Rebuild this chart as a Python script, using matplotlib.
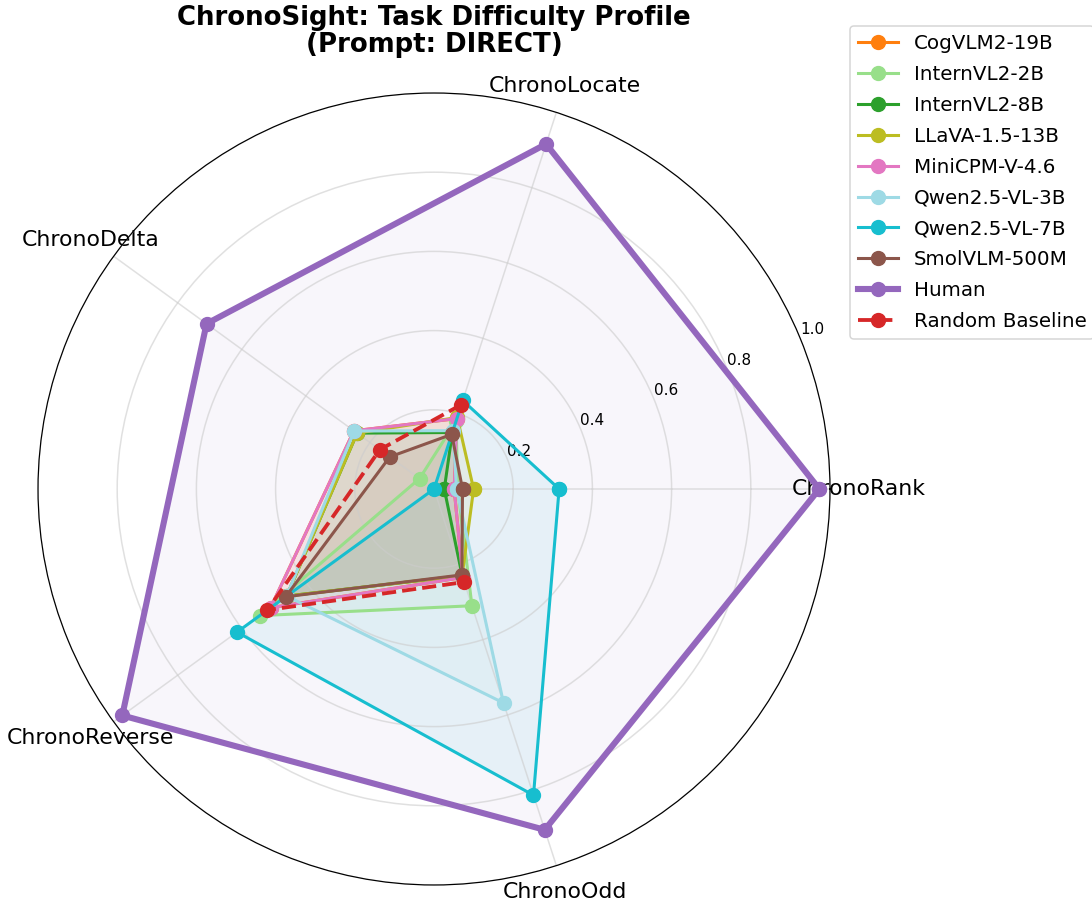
import numpy as np
import matplotlib
matplotlib.use("Agg")
import matplotlib.pyplot as plt

categories = ['ChronoRank', 'ChronoLocate', 'ChronoDelta', 'ChronoReverse', 'ChronoOdd']

models = ['CogVLM2-19B', 'InternVL2-2B', 'InternVL2-8B', 'LLaVA-1.5-13B', 'MiniCPM-V-4.6',
          'Qwen2.5-VL-3B', 'Qwen2.5-VL-7B', 'SmolVLM-500M']
colors = ['#ff7f0e', '#98df8a', '#2ca02c', '#bcbd22', '#e377c2', '#9edae5', '#17becf', '#8c564b']

cogvlm2_19b = [0.051, 0.187, 0.25, 0.51, 0.235]
internvl2_2b = [0.06, 0.18, 0.045, 0.544, 0.31]
internvl2_8b = [0.026, 0.15, 0.24, 0.46, 0.23]
llava_13b = [0.10, 0.19, 0.24, 0.46, 0.23]
minicpm_v46 = [0.051, 0.187, 0.25, 0.51, 0.235]
qwen25vl_3b = [0.057, 0.155, 0.249, 0.46, 0.568]
qwen25vl_7b = [0.316, 0.235, 0.0, 0.615, 0.813]
smolvlm_500m = [0.072, 0.145, 0.138, 0.463, 0.228]
model_values = [cogvlm2_19b, internvl2_2b, internvl2_8b, llava_13b, minicpm_v46,
                qwen25vl_3b, qwen25vl_7b, smolvlm_500m]

human = [0.973, 0.916, 0.71, 0.973, 0.905]
random_baseline = [np.nan, 0.224, 0.169, 0.52, 0.247]

radial_ticks = [0.2, 0.4, 0.6, 0.8, 1.0]
radial_labels = ['0.2', '0.4', '0.6', '0.8', '1.0']

DPI = 110
fig = plt.figure(figsize=(1092 / DPI, 907 / DPI), dpi=DPI)
ax = fig.add_axes([38 / 1092, 1 - 885 / 907, 792 / 1092, 792 / 907], projection='polar')

n = len(categories)
angles = np.linspace(0, 2 * np.pi, n, endpoint=False).tolist()
angles_c = angles + angles[:1]

def close(v):
    return list(v) + [v[0]]

for name, col, vals in zip(models, colors, model_values):
    v = close(vals)
    ax.plot(angles_c, v, color=col, linewidth=2, marker='o', markersize=9, label=name)
    ax.fill(angles_c, v, color=col, alpha=0.08)

hv = close(human)
ax.plot(angles_c, hv, color='#9467bd', linewidth=4, marker='o', markersize=9, label='Human')
ax.fill(angles_c, hv, color='#9467bd', alpha=0.06)

rv = close(random_baseline)
ax.plot(angles_c, rv, color='#d62728', linewidth=2.5, linestyle='--', marker='o', markersize=9,
        label='Random Baseline')

ax.set_ylim(0, 1.0)
ax.set_xticks(angles)
ax.set_xticklabels(categories, fontsize=14.4)
ax.tick_params(axis='x', pad=8)
ax.set_yticks(radial_ticks)
ax.set_yticklabels(radial_labels, fontsize=10)
ax.set_rlabel_position(22.5)
ax.grid(True, color='#cccccc', alpha=0.6, linewidth=1)

fig.text(434 / 1092, 1 - 5 / 907, 'ChronoSight: Task Difficulty Profile\n(Prompt: DIRECT)',
         ha='center', va='top', fontsize=17, fontweight='bold', linespacing=1.05)

fig.legend(loc='upper left', bbox_to_anchor=(850 / 1092, 1 - 26 / 907), fontsize=13,
           bbox_transform=fig.transFigure, borderaxespad=0, labelspacing=0.6)

fig.savefig('out.png', dpi=DPI)
